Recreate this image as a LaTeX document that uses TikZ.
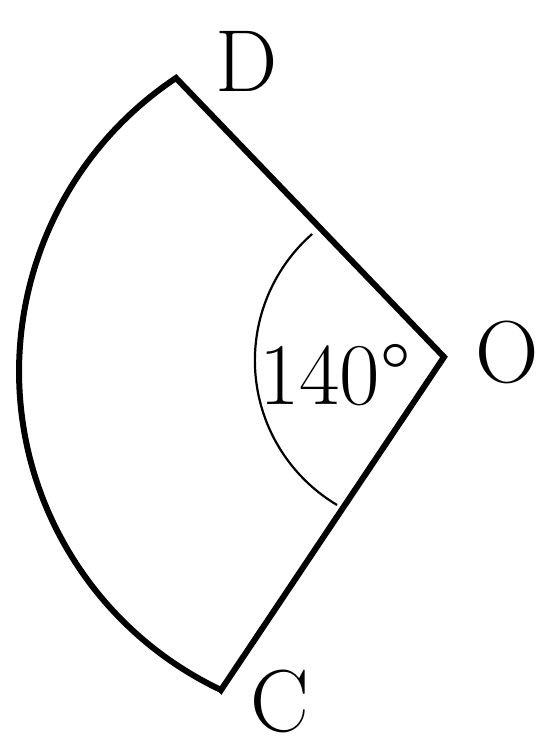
\documentclass[tikz,border=0pt]{standalone}
\begin{document}
\begin{tikzpicture}[x=1pt,y=1pt,
  edge/.style={line width=6pt,line join=miter,miter limit=20},
  anglearc/.style={line width=2.2pt},
  lbl/.style={inner sep=0pt,anchor=base,font=\fontsize{88}{90}\selectfont}]
\useasboundingbox (0,0) rectangle (541,746);
\coordinate (O) at (444,389);
\coordinate (D) at (176,668);
\coordinate (C) at (221,56);
\draw[edge] (C) -- (O) -- (D) arc[start angle=123.7,end angle=244.7,radius=352.5] -- cycle;
\coordinate (A1) at (312.1,512);
\draw[anglearc] (A1) arc[start angle=131.3,end angle=239.2,radius=168.3];
\node[lbl] (lD) at (247,654) {D};
\node[lbl] (lO) at (507,363) {O};
\node[lbl] (lC) at (280,14) {C};
\node[lbl,anchor=base west] (ang) at (259,341) {140\textdegree};
\end{tikzpicture}
\end{document}
